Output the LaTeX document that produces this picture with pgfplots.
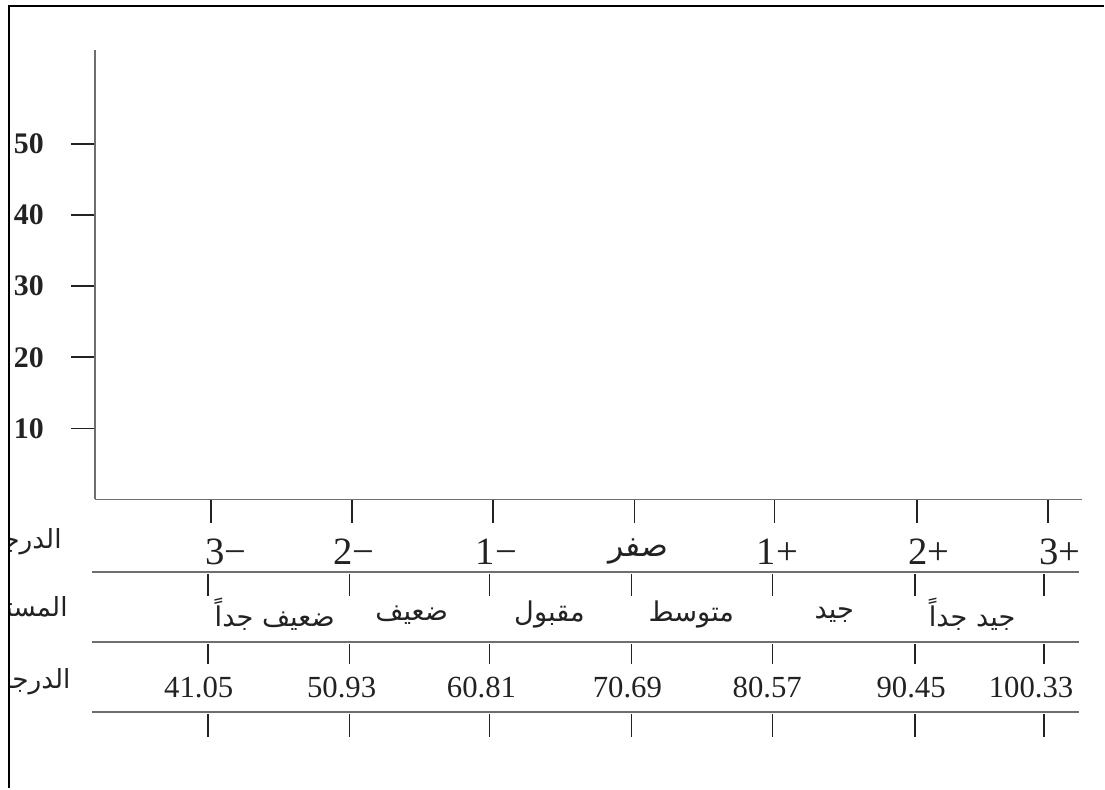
\documentclass[border=0pt]{standalone}
\usepackage{pgfplots}
\pgfplotsset{compat=1.18}
\usepackage{fontspec}
\setmainfont{Liberation Serif}
\newfontfamily\arabicfont[Script=Arabic]{DejaVu Sans}
\TeXXeTstate=1
\definecolor{linegray}{HTML}{6E6E6E}
\definecolor{txt}{HTML}{222222}
\newcommand{\ar}[1]{{\arabicfont\beginR #1\endR}}
\begin{document}
\begin{tikzpicture}
\begin{axis}[
    x=2.826cm, y=0.1424cm,
    anchor=origin, at={(0,0)},
    xmin=-3.822, xmax=3.171,
    ymin=0, ymax=63.2,
    axis x line=bottom, axis y line=left,
    axis line style={-, linegray, line width=1.1pt},
    xtick={-3,-2,-1,0,0.991,2.003,2.93},
    xticklabels={},
    ytick={10,20,30,40,50},
    tick align=outside,
    major tick length=0.47cm,
    tick style={line width=0.9pt, txt},
    /pgf/number format/assume math mode=true,
    yticklabel style={font=\bfseries\fontsize{17}{18}\selectfont, text=txt, xshift=-0.43cm},
    clip=false,
]
% empty chart: no plotted series in the reference
\addplot[draw=none] coordinates {(0,0)};

% table lines below the axis
\pgfplotsinvokeforeach{-10.25,-20.08,-29.92}{
  \draw[linegray, line width=1.1pt] (axis cs:-3.843,#1) -- (axis cs:3.149,#1);
}
\pgfplotsinvokeforeach{-3.022,-2.017,-1.026,-0.021,0.977,1.989,2.902}{
  \draw[txt, line width=0.9pt] (axis cs:#1,-10.53) -- (axis cs:#1,-13.62);
  \draw[txt, line width=0.9pt] (axis cs:#1,-20.37) -- (axis cs:#1,-23.17);
  \draw[txt, line width=0.9pt] (axis cs:#1,-30.20) -- (axis cs:#1,-33.43);
}

% row 1: standard scores
\begin{scope}[every node/.style={text=txt, font=\fontsize{22}{24}\selectfont}]
\node at (axis cs:-2.895,-7.3) {3−};
\node at (axis cs:-1.989,-7.3) {2−};
\node at (axis cs:-0.977,-7.3) {1−};
\node[font=\fontsize{18}{20}\selectfont] at (axis cs:0.028,-7.3) {\ar{صفر}};
\node at (axis cs:1.012,-7.3) {1+};
\node at (axis cs:2.088,-7.3) {2+};
\node at (axis cs:3.015,-7.3) {3+};
\end{scope}

% row 2: levels
\begin{scope}[every node/.style={text=txt, font=\fontsize{15.5}{18}\selectfont}]
\node at (axis cs:-2.548,-16.2) {\ar{ضعيف جداً}};
\node at (axis cs:-1.578,-16.2) {\ar{ضعيف}};
\node at (axis cs:-0.602,-16.2) {\ar{مقبول}};
\node at (axis cs:0.403,-16.2) {\ar{متوسط}};
\node at (axis cs:1.415,-16.2) {\ar{جيد}};
\node at (axis cs:2.392,-16.2) {\ar{جيد جداً}};
\end{scope}

% row 3: raw scores
\begin{scope}[every node/.style={text=txt, font=\fontsize{17.5}{20}\selectfont}]
\node at (axis cs:-3.086,-26.40) {41.05};
\node at (axis cs:-2.074,-26.40) {50.93};
\node at (axis cs:-1.083,-26.40) {60.81};
\node at (axis cs:-0.050,-26.40) {70.69};
\node at (axis cs:0.941,-26.40) {80.57};
\node at (axis cs:1.960,-26.40) {90.45};
\node at (axis cs:2.810,-26.40) {100.33};
\end{scope}

% row titles, cut by the frame on the left
\begin{scope}
\clip (axis cs:-4.43,-40.59) rectangle (axis cs:-3.85,69.38);
\node[anchor=east, text=txt, font=\fontsize{15}{17}\selectfont, inner sep=0pt] at (axis cs:-4.055,-5.9) {\ar{الدرجة المعيارية}};
\node[anchor=east, text=txt, font=\fontsize{15}{17}\selectfont, inner sep=0pt] at (axis cs:-4.013,-15.45) {\ar{المستوى}};
\node[anchor=east, text=txt, font=\fontsize{15}{17}\selectfont, inner sep=0pt] at (axis cs:-3.992,-25.56) {\ar{الدرجة الخام}};
\end{scope}

% outer frame (top and left only)
\draw[black, line width=1.2pt] (axis cs:-4.43,-40.59) -- (axis cs:-4.43,69.38) -- (axis cs:3.326,69.38);
% page extent
\path (axis cs:-4.494,-40.59) rectangle (axis cs:3.326,70.22);
\end{axis}
\end{tikzpicture}
\end{document}
